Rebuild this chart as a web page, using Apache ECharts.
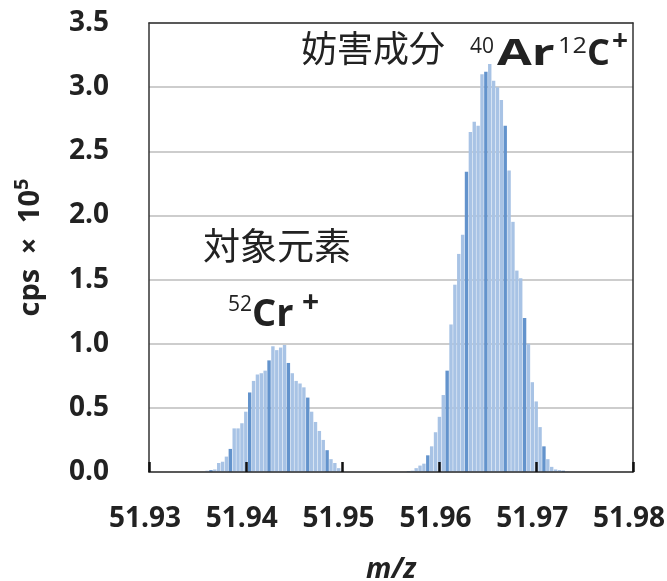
<!DOCTYPE html>
<html><head><meta charset="utf-8">
<script src="https://cdn.jsdelivr.net/npm/echarts@6/dist/echarts.min.js"></script>
<style>html,body{margin:0;padding:0;background:#fff}#c{width:667px;height:581px}</style>
</head><body><div id="c"></div>
<script>
// 52Cr+ peak (m/z, cps x 10^5)
const crMz = [51.9360,51.9364,51.9368,51.9372,51.9376,51.9380,51.9384,51.9388,51.9392,51.9396,
              51.9400,51.9404,51.9408,51.9412,51.9416,51.9420,51.9424,51.9428,51.9432,51.9436,
              51.9440,51.9444,51.9448,51.9452,51.9456,51.9460,51.9464,51.9468,51.9472,51.9476,
              51.9480,51.9484,51.9488,51.9492,51.9496,51.9500];
const crCps = [0.01,0.015,0.02,0.07,0.08,0.12,0.18,0.34,0.34,0.38,
               0.47,0.62,0.71,0.76,0.77,0.79,0.87,0.98,0.95,0.97,
               0.99,0.85,0.77,0.71,0.69,0.66,0.58,0.47,0.39,0.32,
               0.25,0.17,0.10,0.07,0.03,0.01];
// 40Ar12C+ peak
const arMz = [51.9568,51.9572,51.9576,51.9580,51.9584,51.9588,51.9592,51.9596,51.9600,51.9604,
              51.9608,51.9612,51.9616,51.9620,51.9624,51.9628,51.9632,51.9636,51.9640,51.9644,
              51.9648,51.9652,51.9656,51.9660,51.9664,51.9668,51.9672,51.9676,51.9680,51.9684,
              51.9688,51.9692,51.9696,51.9700,51.9704,51.9708,51.9712,51.9716,51.9720,51.9724,
              51.9728,51.9732];
const arCps = [0.005,0.01,0.03,0.05,0.065,0.13,0.20,0.31,0.43,0.60,
               0.79,1.15,1.46,1.70,1.85,2.34,2.65,2.73,2.70,3.10,
               3.12,3.18,3.05,3.00,2.90,2.70,2.35,1.95,1.57,1.51,
               1.20,1.00,0.70,0.55,0.35,0.20,0.10,0.04,0.02,0.015,
               0.01,0.005];
const xMin = 51.93, xMax = 51.98, xStep = 0.01;
const yMin = 0, yMax = 3.5, yStep = 0.5;

const points = crMz.map((m,i)=>[m,crCps[i]]).concat(arMz.map((m,i)=>[m,arCps[i]]));

const chart = echarts.init(document.getElementById('c'));
const latin = '"Open Sans", "Liberation Sans", sans-serif';
const cjk = '"Noto Sans CJK JP", sans-serif';
const frameLine = {show:true,onZero:false,lineStyle:{color:'#333',width:1.5}};
chart.setOption({
  animation:false,
  grid:{left:149,top:23,right:34,bottom:109,containLabel:false,outerBoundsMode:'none'},
  xAxis:[{type:'value',min:xMin,max:xMax,interval:xStep,z:10,
    axisLine:frameLine,
    axisTick:{show:true,inside:true,length:10,lineStyle:{color:'#111',width:2.5}},
    splitLine:{show:false},
    axisLabel:{formatter:v=>v.toFixed(2),fontFamily:latin,fontWeight:'bold',fontSize:28,color:'#222',margin:33,padding:[0,8,0,0]},
    name:'m/z',nameLocation:'middle',nameGap:84,
    nameTextStyle:{fontFamily:latin,fontWeight:'bold',fontStyle:'italic',fontSize:28,color:'#222'}
  },{type:'value',position:'top',min:xMin,max:xMax,interval:xStep,z:10,
    axisLine:frameLine,axisTick:{show:false},axisLabel:{show:false},splitLine:{show:false}}],
  yAxis:[{type:'value',min:yMin,max:yMax,interval:yStep,
    axisLine:frameLine,
    axisTick:{show:false},
    splitLine:{show:true,lineStyle:{color:'#bcbcbc',width:1.5}},
    axisLabel:{formatter:v=>v.toFixed(1),fontFamily:latin,fontWeight:'bold',fontSize:28,color:'#222',margin:40},
    name:'{a|cps\u2002×\u200210}{b|5}',nameLocation:'middle',nameGap:104,nameRotate:90,
    nameTextStyle:{rich:{
      a:{fontFamily:latin,fontWeight:'bold',fontSize:29,color:'#222',verticalAlign:'bottom'},
      b:{fontFamily:latin,fontWeight:'bold',fontSize:20,color:'#222',verticalAlign:'top',padding:[0,0,13,0]}
    }}
  },{type:'value',position:'right',min:yMin,max:yMax,interval:yStep,
    axisLine:frameLine,axisTick:{show:false},axisLabel:{show:false},splitLine:{show:false}}],
  series:[{type:'bar',data:points,barWidth:3.4,
    itemStyle:{color:p=>{const k=Math.round(p.data[0]*2500);const dark=p.data[0]<51.955?(k%5===1):(k%5===2);return dark?'#6393cc':'#a8c3e5';}}
  }],
  graphic:[
    {type:'text',x:301,y:30,style:{text:'妨害成分',font:'normal 36px '+cjk,fill:'#222'}},
    {type:'text',x:470,y:37,style:{text:'40',font:'normal 21px '+latin,fill:'#222'}},
    {type:'text',x:497,y:37,scaleX:1.4,style:{text:'Ar',font:'bold 36px '+latin,fill:'#222'}},
    {type:'text',x:558,y:37,scaleX:1.2,style:{text:'12',font:'normal 21px '+latin,fill:'#222'}},
    {type:'text',x:587,y:37,style:{text:'C',font:'bold 36px '+latin,fill:'#222'}},
    {type:'text',x:612,y:28,style:{text:'+',font:'bold 28px '+latin,fill:'#222'}},
    {type:'text',x:203,y:227,style:{text:'対象元素',font:'normal 37px '+cjk,fill:'#222'}},
    {type:'text',x:228,y:295,style:{text:'52',font:'normal 21px '+latin,fill:'#222'}},
    {type:'text',x:252,y:296,style:{text:'Cr',font:'bold 38px '+latin,fill:'#222'}},
    {type:'text',x:302,y:288,style:{text:'+',font:'bold 30px '+latin,fill:'#222'}}
  ]
});
</script></body></html>
